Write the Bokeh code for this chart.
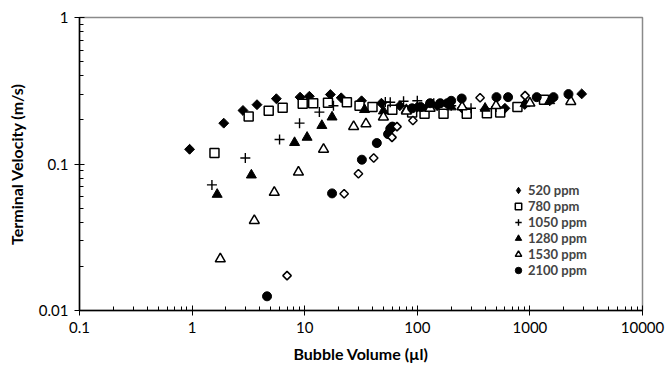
import math
from bokeh.plotting import figure
from bokeh.models import Range1d, FixedTicker, CustomJSTickFormatter, Legend, LegendItem
from bokeh.embed import file_html
from bokeh.resources import INLINE

# ---- data ----
x_520 = [0.95, 1.91, 2.83, 3.77, 5.6, 9.1, 11.0, 16.9, 21.1, 32, 48, 70, 100, 150, 250, 400, 600, 900, 1500, 2884]
y_520 = [0.126, 0.19, 0.232, 0.254, 0.279, 0.286, 0.29, 0.298, 0.283, 0.27, 0.26, 0.25, 0.245, 0.25, 0.24, 0.235, 0.24, 0.255, 0.27, 0.301]

x_780 = [1.58, 3.18, 4.79, 6.37, 9.6, 11.9, 16.1, 23.7, 30.7, 40, 60, 90, 116, 171, 275, 415, 545, 775, 1335]
y_780 = [0.119, 0.211, 0.231, 0.242, 0.258, 0.26, 0.262, 0.264, 0.25, 0.245, 0.235, 0.225, 0.22, 0.22, 0.22, 0.222, 0.225, 0.245, 0.275]

x_1050 = [1.50, 2.97, 5.98, 9.0, 13.5, 18, 52, 57.5, 75.5, 100, 140, 200, 300, 500]
y_1050 = [0.072, 0.110, 0.147, 0.19, 0.226, 0.25, 0.265, 0.264, 0.268, 0.27, 0.26, 0.25, 0.24, 0.245]

x_1280 = [1.67, 3.36, 8.13, 10.5, 14.2, 17.5, 34, 50, 80, 120, 200, 400, 906, 1500]
y_1280 = [0.062, 0.084, 0.14, 0.152, 0.183, 0.209, 0.235, 0.23, 0.235, 0.24, 0.245, 0.24, 0.258, 0.27]

x_1530 = [1.78, 3.57, 5.37, 8.8, 14.7, 27.2, 35, 50, 80, 130, 250, 500, 1000, 2308]
y_1530 = [0.0225, 0.0411, 0.064, 0.088, 0.126, 0.18, 0.188, 0.209, 0.23, 0.24, 0.245, 0.25, 0.26, 0.267]

x_2100 = [4.63, 17.5, 32.2, 43.7, 55, 57.5, 60, 90, 107, 130, 160, 185, 200, 248, 505, 640, 1150, 1620, 2200]
y_2100 = [0.0125, 0.063, 0.107, 0.139, 0.16, 0.174, 0.18, 0.24, 0.245, 0.26, 0.26, 0.26, 0.27, 0.28, 0.286, 0.286, 0.286, 0.286, 0.30]

x_extra = [6.97, 22.4, 30, 41, 59.6, 66, 91.4, 361, 906]
y_extra = [0.0173, 0.0626, 0.0857, 0.110, 0.152, 0.18, 0.198, 0.283, 0.293]

x_ticks = [0.1, 1, 10, 100, 1000, 10000]
y_ticks = [0.01, 0.1, 1]
legend_labels = ["520 ppm", "780 ppm", "1050 ppm", "1280 ppm", "1530 ppm", "2100 ppm"]

FONT = "Lato"

p = figure(width=665, height=367, x_axis_type="log", y_axis_type="log",
           x_range=Range1d(0.1, 10000), y_range=Range1d(0.01, 1),
           output_backend="svg", toolbar_location=None,
           min_border_left=79, min_border_right=23, min_border_top=17, min_border_bottom=57)
p.background_fill_color = "white"
p.border_fill_color = "white"
p.outline_line_color = "#8a8a8a"
p.outline_line_width = 1.5
p.xgrid.visible = False
p.ygrid.visible = False

minor_x = [m * 10.0 ** e for e in range(-1, 4) for m in range(2, 10)]
minor_y = [m * 10.0 ** e for e in range(-2, 0) for m in range(2, 10)]
p.xaxis.ticker = FixedTicker(ticks=x_ticks, minor_ticks=minor_x)
p.yaxis.ticker = FixedTicker(ticks=y_ticks, minor_ticks=minor_y)
fmt = CustomJSTickFormatter(code="return tick < 1 ? String(Number(tick.toPrecision(3))) : tick.toFixed(0);")
p.xaxis.formatter = fmt
p.yaxis.formatter = fmt

for ax in (p.xaxis[0], p.yaxis[0]):
    ax.axis_line_color = "black"
    ax.axis_line_width = 1.5
    ax.major_tick_line_color = "black"
    ax.minor_tick_line_color = "black"
    ax.major_tick_in = 5
    ax.major_tick_out = 5
    ax.minor_tick_in = 4
    ax.minor_tick_out = 0
    ax.major_label_text_font = FONT
    ax.major_label_text_font_size = "15px"
    ax.major_label_text_color = "black"
    ax.axis_label_text_font = FONT
    ax.axis_label_text_font_style = "bold"
    ax.axis_label_text_font_size = "16px"
    ax.axis_label_text_color = "black"

p.xaxis.axis_label = "Bubble Volume (\u00b5l)"
p.yaxis.axis_label = "Terminal Velocity (m/s)"
p.xaxis.major_label_standoff = 6
p.yaxis.major_label_standoff = 6
p.xaxis.axis_label_standoff = 8
p.yaxis.axis_label_standoff = 10

r1 = p.scatter(x_520, y_520, marker="square", size=7, angle=math.pi / 4,
               fill_color="black", line_color="black")
r2 = p.scatter(x_780, y_780, marker="square", size=9, fill_color="white",
               line_color="black", line_width=1.5)
r3 = p.scatter(x_1050, y_1050, marker="cross", size=10, line_color="black", line_width=1.4)
r4 = p.scatter(x_1280, y_1280, marker="triangle", size=10, fill_color="black", line_color="black")
r5 = p.scatter(x_1530, y_1530, marker="triangle", size=10, fill_color="white",
               line_color="black", line_width=1.5)
r6 = p.scatter(x_2100, y_2100, marker="circle", size=9, fill_color="black", line_color="black")
r7 = p.scatter(x_extra, y_extra, marker="square", size=6, angle=math.pi / 4,
               fill_color="white", line_color="black", line_width=1.5)

# legend key for 520 ppm: a diamond drawn on top of the first 520 ppm point (hidden inside it)
r1_key = p.scatter(x_520[:1], y_520[:1], marker="diamond", size=9,
                   fill_color="black", line_color="black")

renderers = [r1_key, r2, r3, r4, r5, r6]
items = [LegendItem(label=lab, renderers=[r], index=0) for lab, r in zip(legend_labels, renderers)]
legend = Legend(items=items, location=(431, 32), orientation="vertical",
                border_line_color=None, background_fill_alpha=0,
                label_text_font=FONT, label_text_font_style="bold",
                label_text_font_size="13px", label_height=16, glyph_height=16,
                glyph_width=16, label_standoff=2, spacing=0, padding=0, margin=0)
p.add_layout(legend, "center")

open("out.html", "w").write(file_html(p, INLINE))
